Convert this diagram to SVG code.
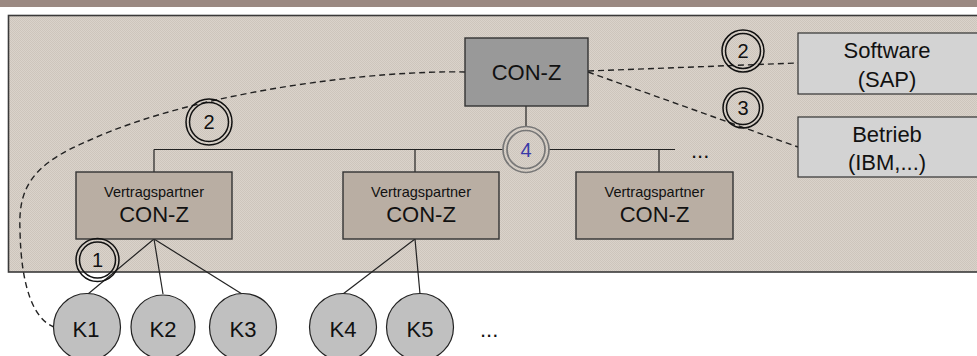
<svg xmlns="http://www.w3.org/2000/svg" width="977" height="356" viewBox="0 0 977 356">
  <style>
    text { font-family: "Liberation Sans", Arial, sans-serif; fill: #111; }
    .big { font-size: 22px; text-anchor: middle; }
    .small { font-size: 14.5px; text-anchor: middle; }
    .num { font-size: 20px; text-anchor: middle; }
    .vp { fill: #b9aea3; stroke: #333; stroke-width: 1.4; }
    .ext { fill: #d3d3d3; stroke: #333; stroke-width: 1.2; }
    .kc { fill: #c0c0c0; stroke: #222; stroke-width: 1.2; }
    .ring { fill: none; stroke: #111; stroke-width: 1.5; }
    .ring4 { fill: none; stroke: #777; stroke-width: 1.7; }
    .solid { fill: none; stroke: #222; stroke-width: 1.2; }
    .dash { fill: none; stroke: #222; stroke-width: 1.4; stroke-dasharray: 6 4; }
  </style>
  <defs>
    <pattern id="tex" width="2" height="2" patternUnits="userSpaceOnUse">
      <rect width="2" height="2" fill="#dad3cb"/>
      <rect width="1" height="1" fill="#cdc5bc"/>
      <rect x="1" y="1" width="1" height="1" fill="#cdc5bc"/>
    </pattern>
  </defs>

  <rect x="0" y="0" width="977" height="356" fill="#ffffff"/>
  <rect x="0" y="0" width="977" height="7" fill="#9b8982"/>

  <g id="panel">
    <rect x="8.5" y="15.5" width="975" height="256.5" fill="url(#tex)" stroke="#3a3a3a" stroke-width="1.6"/>
  </g>

  <g id="connectors">
    <line class="solid" x1="526" y1="106" x2="526" y2="126"/>
    <line class="solid" x1="154" y1="149.5" x2="503" y2="149.5"/>
    <line class="solid" x1="549" y1="149.5" x2="675" y2="149.5"/>
    <line class="solid" x1="154" y1="149.5" x2="154" y2="172"/>
    <line class="solid" x1="415" y1="149.5" x2="415" y2="172"/>
    <line class="solid" x1="659" y1="149.5" x2="659" y2="172"/>
    <line class="solid" x1="154" y1="239" x2="88" y2="294"/>
    <line class="solid" x1="154" y1="239" x2="163" y2="294"/>
    <line class="solid" x1="154" y1="239" x2="242" y2="294"/>
    <line class="solid" x1="415" y1="239" x2="343" y2="294"/>
    <line class="solid" x1="415" y1="239" x2="420" y2="294"/>
    <line class="dash" x1="588" y1="71" x2="798" y2="63"/>
    <line class="dash" x1="588" y1="72" x2="798" y2="147"/>
    <path class="dash" d="M465,72 C380,70 200,90 90,140 C32,164 18,188 20,230 C21,290 35,320 54,327"/>
  </g>

  <g id="con-z-top">
    <rect x="465" y="38" width="123" height="68" fill="#999999" stroke="#333" stroke-width="1.4"/>
    <text class="big" x="526.5" y="80">CON-Z</text>
  </g>

  <g id="software">
    <rect class="ext" x="798" y="33" width="180" height="61"/>
    <text class="big" x="887" y="58">Software</text>
    <text class="big" x="887" y="87">(SAP)</text>
  </g>

  <g id="betrieb">
    <rect class="ext" x="798" y="117" width="180" height="60"/>
    <text class="big" x="887" y="142">Betrieb</text>
    <text class="big" x="887" y="170">(IBM,...)</text>
  </g>

  <g id="vp1">
    <rect class="vp" x="76" y="172" width="156" height="67"/>
    <text class="small" x="154" y="197">Vertragspartner</text>
    <text class="big" x="154" y="222">CON-Z</text>
  </g>
  <g id="vp2">
    <rect class="vp" x="343" y="172" width="156" height="67"/>
    <text class="small" x="421" y="197">Vertragspartner</text>
    <text class="big" x="421" y="222">CON-Z</text>
  </g>
  <g id="vp3">
    <rect class="vp" x="576" y="172" width="157" height="67"/>
    <text class="small" x="654.5" y="197">Vertragspartner</text>
    <text class="big" x="654.5" y="222">CON-Z</text>
  </g>

  <g id="dots-top">
    <text x="691" y="158" style="font-size:22px">...</text>
  </g>
  <g id="dots-bottom">
    <text x="480" y="337" style="font-size:22px">...</text>
  </g>

  <g id="k1"><circle class="kc" cx="87" cy="327" r="33.5"/><text class="big" x="86" y="337">K1</text></g>
  <g id="k2"><circle class="kc" cx="163" cy="327" r="32"/><text class="big" x="163" y="337">K2</text></g>
  <g id="k3"><circle class="kc" cx="243" cy="327" r="33.5"/><text class="big" x="243" y="337">K3</text></g>
  <g id="k4"><circle class="kc" cx="343" cy="327" r="33.5"/><text class="big" x="343" y="337">K4</text></g>
  <g id="k5"><circle class="kc" cx="420" cy="327" r="33.5"/><text class="big" x="420" y="337">K5</text></g>

  <g id="mark-2-right">
    <circle class="ring" cx="743" cy="51" r="21"/>
    <circle class="ring" cx="743" cy="51" r="17.5"/>
    <text class="num" x="743" y="58">2</text>
  </g>
  <g id="mark-3">
    <circle class="ring" cx="743" cy="108" r="20"/>
    <circle class="ring" cx="743" cy="108" r="16.5"/>
    <text class="num" x="743" y="115">3</text>
  </g>
  <g id="mark-2-left">
    <circle class="ring" cx="209" cy="122" r="23"/>
    <circle class="ring" cx="209" cy="122" r="19.5"/>
    <text class="num" x="209" y="129">2</text>
  </g>
  <g id="mark-1">
    <circle class="ring" cx="97.5" cy="260" r="21.5"/>
    <circle class="ring" cx="97.5" cy="260" r="18"/>
    <text class="num" x="97.5" y="267">1</text>
  </g>
  <g id="mark-4">
    <circle class="ring4" cx="526" cy="149.5" r="23"/>
    <circle class="ring4" cx="526" cy="149.5" r="19"/>
    <text class="num" x="526" y="156.5" style="fill:#3a3aa8">4</text>
  </g>
</svg>
